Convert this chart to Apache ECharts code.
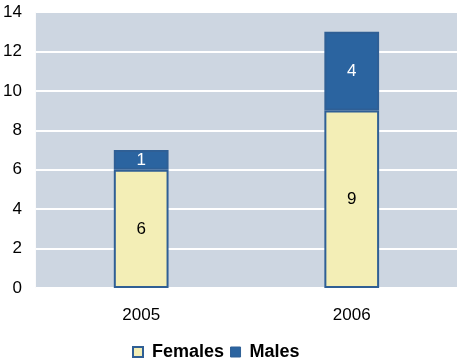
<!DOCTYPE html>
<html><head><meta charset="utf-8">
<script src="https://cdn.jsdelivr.net/npm/echarts@6/dist/echarts.min.js"></script>
<style>html,body{margin:0;padding:0;background:#fff;}#c{width:460px;height:362px;}</style>
</head><body><div id="c"></div>
<script>
const categories = ['2005', '2006'];
const females = [6, 9];
const males = [1, 4];
const yTicks = [0, 2, 4, 6, 8, 10, 12, 14];

const chart = echarts.init(document.getElementById('c'));
chart.setOption({
  animation: false,
  backgroundColor: '#ffffff',
  grid: { left: 34, right: 3, top: 12, bottom: 74, backgroundColor: '#CDD6E1', show: true, borderWidth: 0 },
  legend: {
    top: 338, left: 127,
    itemWidth: 10, itemHeight: 10, itemGap: 6,
    textStyle: { fontFamily: 'Liberation Sans', fontWeight: 'bold', fontSize: 18, color: '#000', padding: [0, 0, 0, 4] },
    data: [
      { name: 'Females', icon: 'rect', itemStyle: { color: '#F3EEB6', borderColor: '#2F5F95', borderWidth: 2 } },
      { name: 'Males', icon: 'rect', itemStyle: { color: '#2B64A0', borderColor: '#2F5F95', borderWidth: 1 } }
    ]
  },
  xAxis: {
    type: 'category', data: categories,
    axisLine: { show: false }, axisTick: { show: false },
    axisLabel: { fontFamily: 'Liberation Sans', fontSize: 17, color: '#000', margin: 19 }
  },
  yAxis: {
    type: 'value', min: 0, max: 14, interval: 2,
    axisLine: { show: false }, axisTick: { show: false },
    splitLine: { lineStyle: { color: '#ffffff', width: 2 } },
    axisLabel: { fontFamily: 'Liberation Sans', fontSize: 17, color: '#000', margin: 14,
      formatter: v => yTicks.includes(v) ? String(v) : '' }
  },
  series: [
    { name: 'Females', type: 'bar', stack: 'a', data: females, barWidth: '26%',
      itemStyle: { color: '#F3EEB6', borderColor: '#2F5F95', borderWidth: 2 },
      label: { show: true, position: 'inside', fontFamily: 'Liberation Sans', fontSize: 17, color: '#000' } },
    { name: 'Males', type: 'bar', stack: 'a', data: males, barWidth: '26%',
      itemStyle: { color: '#2B64A0', borderColor: '#2F5F95', borderWidth: 2 },
      label: { show: true, position: 'inside', fontFamily: 'Liberation Sans', fontSize: 17, color: '#fff' } }
  ]
});
</script></body></html>
